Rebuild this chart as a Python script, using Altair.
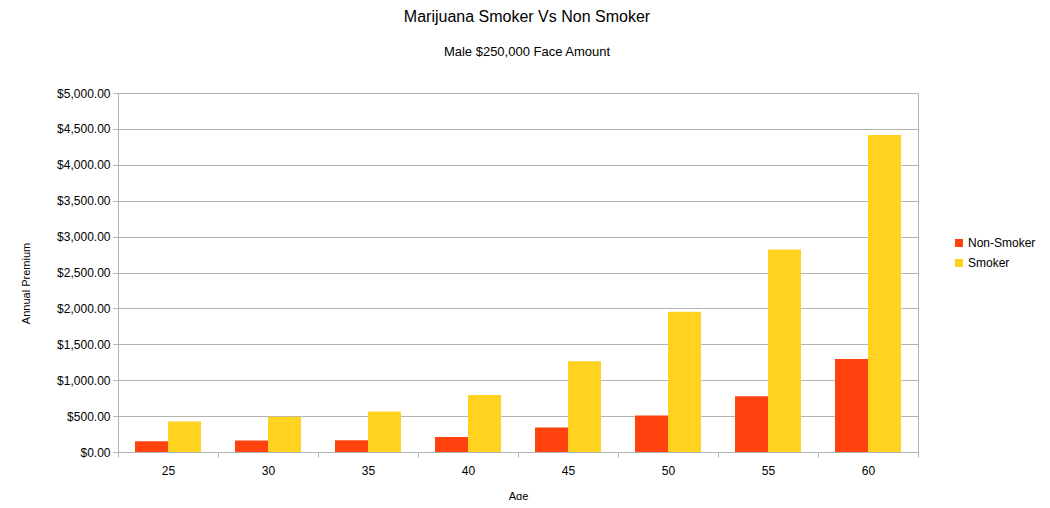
import altair as alt
import pandas as pd

ages = ["25", "30", "35", "40", "45", "50", "55", "60"]
non_smoker = [150, 160, 164, 210, 340, 510, 775, 1296]
smoker = [425, 490, 565, 793, 1264, 1954, 2821, 4415]
series = ["Non-Smoker", "Smoker"]
colors = ["#ff420e", "#ffd320"]

rows = []
for a, n, s in zip(ages, non_smoker, smoker):
    rows.append({"Age": a, "Series": series[0], "Premium": n})
    rows.append({"Age": a, "Series": series[1], "Premium": s})
df = pd.DataFrame(rows)

FONT = "Liberation Sans"

chart = alt.Chart(df).mark_bar().encode(
    x=alt.X("Age:N", sort=ages,
            scale=alt.Scale(paddingInner=0, paddingOuter=0),
            axis=alt.Axis(title="Age", labelAngle=0, tickBand="extent",
                          labelFontSize=12, labelPadding=8, tickSize=5,
                          titleFontSize=11, titleFontWeight="normal",
                          titlePadding=14, domainColor="#b3b3b3",
                          tickColor="#b3b3b3", labelColor="#000000",
                          titleColor="#000000")),
    xOffset=alt.XOffset("Series:N", sort=series,
                        scale=alt.Scale(paddingInner=0, paddingOuter=0.515)),
    y=alt.Y("Premium:Q",
            scale=alt.Scale(domain=[0, 5000], nice=False),
            axis=alt.Axis(title="Annual Premium", format="$,.2f",
                          values=list(range(0, 5001, 500)),
                          labelFontSize=12, tickSize=5, labelPadding=3,
                          titleFontSize=11, titleFontWeight="normal",
                          titleX=-87, titleY=190, titleAngle=-90,
                          gridColor="#b3b3b3", domainColor="#b3b3b3",
                          tickColor="#b3b3b3", labelColor="#000000",
                          titleColor="#000000")),
    color=alt.Color("Series:N", sort=series,
                    scale=alt.Scale(domain=series, range=colors),
                    legend=alt.Legend(title=None, orient="none",
                                      legendX=835, legendY=144,
                                      symbolType="square", symbolSize=64,
                                      symbolStrokeWidth=0, labelOffset=3,
                                      labelFontSize=12, labelColor="#000000",
                                      rowPadding=8)),
).properties(
    width=800,
    height=359,
    title=alt.Title("Marijuana Smoker Vs Non Smoker",
                    subtitle="Male $250,000 Face Amount",
                    fontSize=16, fontWeight="normal", subtitleFontSize=13,
                    color="#000000", subtitleColor="#000000",
                    subtitlePadding=21, anchor="middle", offset=28, dx=9),
    autosize=alt.AutoSizeParams(type="none"),
    padding={"left": 110, "top": 85, "right": 120, "bottom": 48},
).configure(font=FONT).configure_view(stroke="#b3b3b3", strokeWidth=1)

chart.save("out.html", embed_options={"renderer": "svg", "actions": False})
